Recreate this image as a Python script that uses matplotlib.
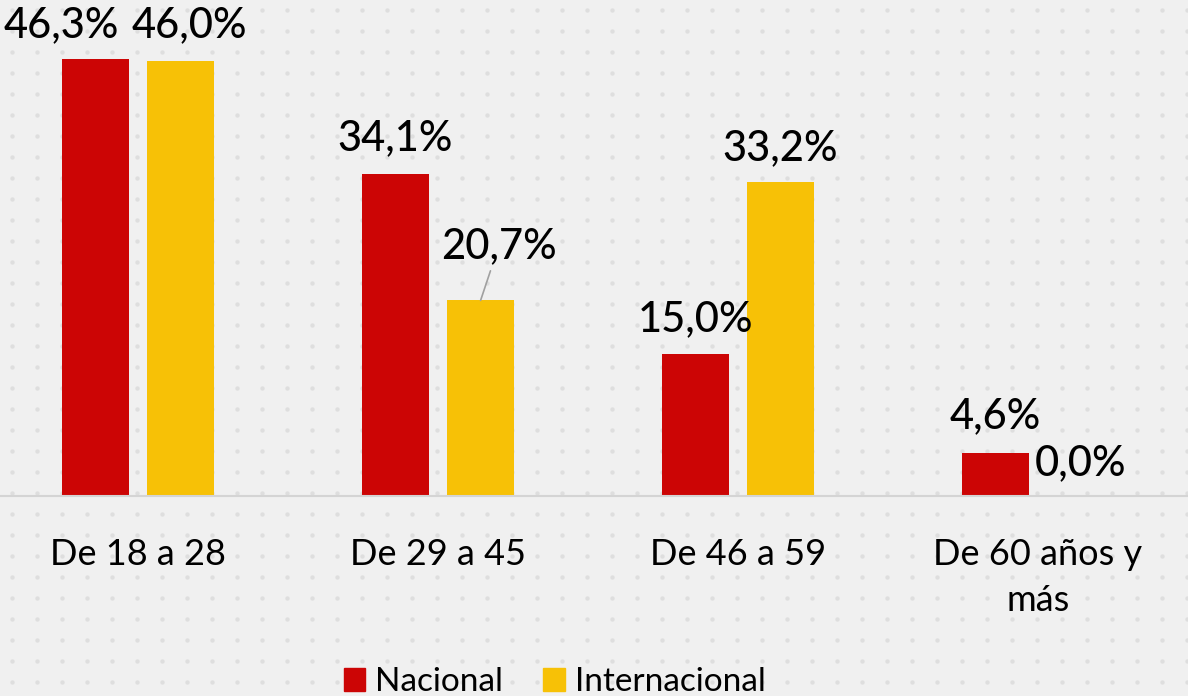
import matplotlib
matplotlib.use("Agg")
import matplotlib.pyplot as plt
from matplotlib.patches import Patch
import numpy as np

# age groups and share of respondents (%)
categories = ["De 18 a 28", "De 29 a 45", "De 46 a 59", "De 60 años y\nmás"]
nacional = [46.3, 34.1, 15.0, 4.6]
internacional = [46.0, 20.7, 33.2, 0.0]
series_names = ["Nacional", "Internacional"]

RED = "#CC0505"
YELLOW = "#F7C106"
BG = "#F0F0F0"

plt.rcParams["font.family"] = ["Lato", "DejaVu Sans"]

fig = plt.figure(figsize=(11.88, 6.96), dpi=100)
fig.patch.set_facecolor(BG)

# faint dotted backdrop (decoration only)
bg = fig.add_axes([0, 0, 1, 1], zorder=0)
bg.set_xlim(0, 1188)
bg.set_ylim(696, 0)
bg.axis("off")
gx, gy = np.meshgrid(np.arange(12, 1188, 25), np.arange(10, 696, 21))
bg.scatter(gx.ravel(), gy.ravel(), s=10, color="#DEDEDE", linewidths=0)

ax = fig.add_axes([0, 0.2874, 1, 0.7126], zorder=1)
ax.patch.set_alpha(0)

x = np.arange(len(categories))
w = 0.223
off = 0.142
b1 = ax.bar(x - off, nacional, w, color=RED, label=series_names[0])
b2 = ax.bar(x + off, internacional, w, color=YELLOW, label=series_names[1])

ax.set_xlim(-0.46, 3.5)
ax.set_ylim(0, 52.5)

for s in ["top", "right", "left"]:
    ax.spines[s].set_visible(False)
ax.spines["bottom"].set_color("#D4D4D4")
ax.spines["bottom"].set_linewidth(1.5)
ax.set_yticks([])
ax.set_xticks(x)
ax.set_xticklabels(categories, fontsize=26, linespacing=1.5)
ax.tick_params(axis="x", length=0, pad=30)

# label offsets in pixels (dx, dy) to mimic the original placement
lab_off_nac = [(-34, 33), (0, 36), (0, 35), (0, 36)]
lab_off_int = [(9, 36), (18, 54), (0, 34), (0, 33)]

def fmt(v):
    return f"{v:.1f}%".replace(".", ",")

for bars, vals, offs in [(b1, nacional, lab_off_nac), (b2, internacional, lab_off_int)]:
    for rect, v, (dx, dy) in zip(bars, vals, offs):
        cx = rect.get_x() + rect.get_width() / 2
        kw = {}
        if dy > 45:
            kw["arrowprops"] = dict(arrowstyle="-", color="#A0A0A0", lw=1.2,
                                    shrinkA=2, shrinkB=0)
        ax.annotate(fmt(v), xy=(cx, v), xytext=(dx, dy), textcoords="offset pixels",
                    ha="center", va="center", fontsize=30, fontweight="medium",
                    color="#000000", **kw)

handles = [Patch(color=RED), Patch(color=YELLOW)]
fig.legend(handles, series_names, loc="lower center", bbox_to_anchor=(0.467, -0.045),
           ncol=2, frameon=False, fontsize=24, handlelength=0.65, handleheight=0.65,
           handletextpad=0.3, columnspacing=1.2)

fig.savefig("out.png", dpi=100, facecolor=BG)
